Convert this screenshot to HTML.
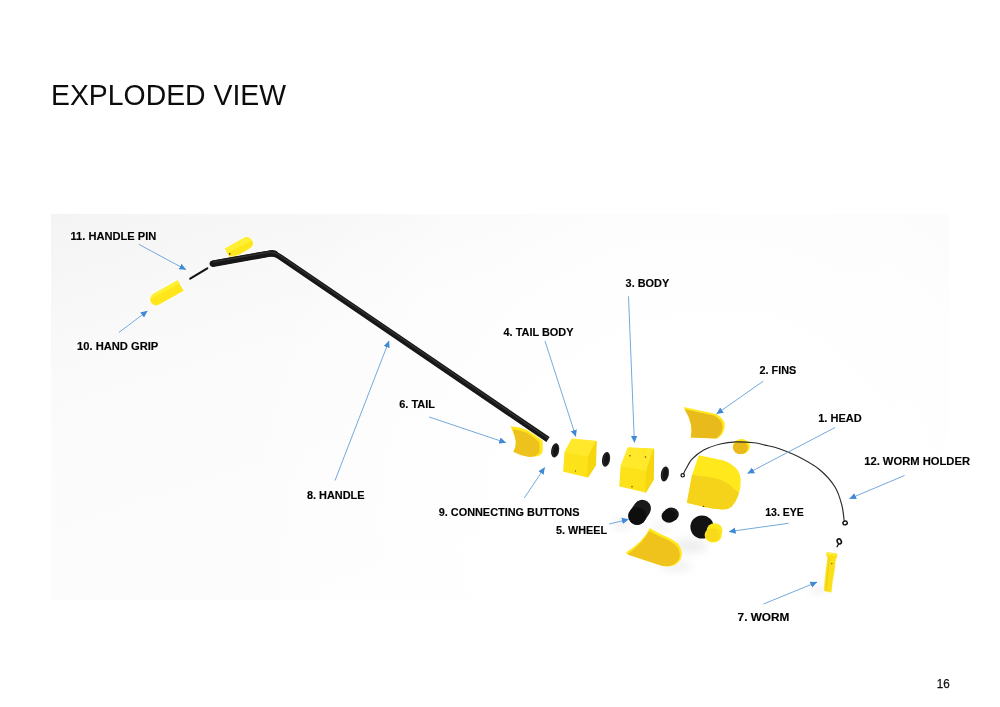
<!DOCTYPE html>
<html>
<head>
<meta charset="utf-8">
<title>Exploded View</title>
<style>
  html, body { margin: 0; padding: 0; background: #ffffff; }
  body { width: 1000px; height: 707px; overflow: hidden; position: relative; font-family: "Liberation Sans", sans-serif; }
  svg { position: absolute; left: 0; top: 0; display: block; }
  .lbl { font-family: "Liberation Sans", sans-serif; font-weight: bold; font-size: 11.5px; fill: #000000; stroke: #000000; stroke-width: 0.15; }
  .title { font-family: "Liberation Sans", sans-serif; font-size: 29.8px; fill: #0c0c0c; }
  .pg { font-family: "Liberation Sans", sans-serif; font-size: 12px; fill: #111111; stroke: #111111; stroke-width: 0.25; }
  .arr { stroke: #74a9dc; stroke-width: 1; fill: none; }
</style>
</head>
<body>
<svg width="1000" height="707" viewBox="0 0 1000 707">
  <defs>
    <linearGradient id="bg" gradientUnits="userSpaceOnUse" x1="51" y1="214" x2="291" y2="986">
      <stop offset="0" stop-color="#f4f4f4"/>
      <stop offset="0.125" stop-color="#f8f8f8"/>
      <stop offset="0.25" stop-color="#fbfbfb"/>
      <stop offset="0.5" stop-color="#fcfcfc"/>
      <stop offset="0.72" stop-color="#ffffff"/>
    </linearGradient>
    <radialGradient id="bgw" gradientUnits="userSpaceOnUse" cx="700" cy="520" r="480">
      <stop offset="0" stop-color="#ffffff" stop-opacity="1"/>
      <stop offset="0.35" stop-color="#ffffff" stop-opacity="1"/>
      <stop offset="1" stop-color="#ffffff" stop-opacity="0"/>
    </radialGradient>
    <filter id="blur2" x="-50%" y="-50%" width="200%" height="200%"><feGaussianBlur stdDeviation="2.2"/></filter>
    <filter id="blur4" x="-50%" y="-50%" width="200%" height="200%"><feGaussianBlur stdDeviation="4"/></filter>
    <filter id="blur8" x="-50%" y="-50%" width="200%" height="200%"><feGaussianBlur stdDeviation="9"/></filter>
    <marker id="mk" viewBox="0 0 10 10" refX="9.6" refY="5" markerWidth="6.9" markerHeight="7.6" orient="auto" markerUnits="userSpaceOnUse">
      <path d="M0,0.4 L10,5 L0,9.6 Z" fill="#3f89d6"/>
    </marker>
  </defs>

  <!-- picture background -->
  <rect x="51" y="214" width="898" height="386.5" fill="url(#bg)"/>
  <rect x="51" y="214" width="898" height="386.5" fill="url(#bgw)"/>

  <!-- soft shadows -->
  <g opacity="0.42">
    <ellipse cx="690" cy="546" rx="18" ry="7" fill="#d6d6d6" filter="url(#blur4)"/>
    <ellipse cx="676" cy="566" rx="16" ry="5" fill="#dcdcdc" filter="url(#blur4)"/>
    <ellipse cx="622" cy="524" rx="10" ry="5" fill="#dddddd" filter="url(#blur4)"/>
    <ellipse cx="660" cy="527" rx="10" ry="4" fill="#dddddd" filter="url(#blur4)"/>
    <ellipse cx="818" cy="590" rx="9" ry="4" fill="#dddddd" filter="url(#blur4)"/>
  </g>

  <!-- top grip (behind rod) -->
  <path transform="translate(0,0.8)" d="M225.2,248 L244.4,237.2 A5.8,5.8 0 0 1 250.6,246.8 L230.9,258.2 Z" fill="#ffffff" stroke="#ffffff" stroke-width="2.6" stroke-linejoin="round" opacity="0.55"/>
  <path transform="translate(0,0.8)" d="M225.2,248 L244.4,237.2 A5.8,5.8 0 0 1 250.6,246.8 L230.9,258.2 Z" fill="#ffe61a" stroke="#ffe61a" stroke-width="0.8" stroke-linejoin="round"/>
  <path transform="translate(0,0.8)" d="M225.2,248 L244.4,237.2 A5.8,5.8 0 0 1 251.6,240 L227.2,252.2 Z" fill="#fff034"/>
  <circle cx="229.8" cy="253.8" r="0.9" fill="#6a2a00"/>

  <!-- hand grip -->
  <path d="M177.6,280.2 L153.2,294 A6,6 0 0 0 159.2,304.6 L183.6,290.8 Z" fill="#ffffff" stroke="#ffffff" stroke-width="2.6" stroke-linejoin="round" opacity="0.55"/>
  <path d="M177.6,280.2 L153.2,294 A6,6 0 0 0 159.2,304.6 L183.6,290.8 Z" fill="#ffe61a"/>
  <path d="M177.6,280.2 L153.2,294 A6,6 0 0 0 150.6,299 L179.6,283.6 Z" fill="#fff034"/>

  <!-- pin -->
  <line x1="190.2" y1="278.6" x2="207.3" y2="268.4" stroke="#111" stroke-width="2.1" stroke-linecap="round"/>

  <!-- tail -->
  <path d="M510.6,426.3 Q520,427 528.3,430.2 Q536,434 542.6,440.5 L542.8,450.4 Q542,454 539.6,455.6 Q534,457.4 528.3,456.8 Q520,455.6 513.4,451.8 Q516.2,447 515.9,441.9 Q515.4,437 510.6,426.3 Z" fill="#ffe71c"/>
  <path d="M512.4,429.2 Q520,430 527.3,433 Q534,436.6 539.4,442.5 L539.4,452 Q538,454.6 535,455.9 Q531,456.9 528.3,456.8 Q520,455.6 513.4,451.8 Q516.2,447 515.9,441.9 Q515.4,437 512.4,429.2 Z" fill="#eec21c"/>

  <!-- handle rod -->
  <path d="M212.6,263.6 L268,253.8 Q273.8,252.6 278.6,256 L548,439.5" fill="none" stroke="#ffffff" stroke-width="8.4" stroke-linecap="round" stroke-linejoin="round" opacity="0.55"/>
  <path d="M212.6,263.6 L268,253.8 Q273.8,252.6 278.6,256 L548,439.5" fill="none" stroke="#181818" stroke-width="5.8" stroke-linecap="butt" stroke-linejoin="round"/>
  <path d="M212.8,263.7 L268,253.9 Q272,253 274.6,253.6" fill="none" stroke="#181818" stroke-width="6.5" stroke-linecap="round" stroke-linejoin="round"/>
  <path d="M213,262 L268,252.4 Q273.6,251.4 278.8,254.8 L548,438.2" fill="none" stroke="#4a4a4a" stroke-width="1.2" stroke-linecap="butt" stroke-linejoin="round" opacity="0.55"/>

  <!-- connecting buttons -->
  <g fill="#151515">
    <ellipse cx="555.1" cy="450.4" rx="3.9" ry="7.2" transform="rotate(9 555.1 450.4)"/>
    <ellipse cx="606" cy="459.4" rx="3.9" ry="7.4" transform="rotate(9 606 459.4)"/>
    <ellipse cx="664.8" cy="474" rx="3.9" ry="7.6" transform="rotate(9 664.8 474)"/>
  </g>
  <g fill="none" stroke="#3a3a3a" stroke-width="0.8" opacity="0.8">
    <ellipse cx="555.7" cy="450.3" rx="3" ry="6.4" transform="rotate(9 555.7 450.3)"/>
    <ellipse cx="606.6" cy="459.3" rx="3" ry="6.6" transform="rotate(9 606.6 459.3)"/>
    <ellipse cx="665.4" cy="473.9" rx="3" ry="6.8" transform="rotate(9 665.4 473.9)"/>
  </g>

  <!-- tail body cube -->
  <g stroke-linejoin="round" stroke-width="1.2">
    <polygon points="565,452.8 587.8,456.4 587.4,476.8 563.8,471.2" fill="#fde21a" stroke="#fde21a"/>
    <polygon points="565,452.2 572,439 596.2,441.4 588,455.8" fill="#ffe92a" stroke="#ffe92a"/>
    <polygon points="588.6,456.2 596.2,441.8 595.4,465.2 588,476.8" fill="#f5d60f" stroke="#f5d60f"/>
  </g>
  <circle cx="575.5" cy="471" r="0.7" fill="#7a6500"/>

  <!-- body cube -->
  <g stroke-linejoin="round" stroke-width="1.2">
    <polygon points="621.2,466.4 646.2,470.6 645.4,492 619.9,486" fill="#fde21a" stroke="#fde21a"/>
    <polygon points="621.2,465.6 628.2,447.8 653.6,449 646.2,469.8" fill="#ffe92a" stroke="#ffe92a"/>
    <polygon points="646.8,470.4 653.6,449.6 653.2,479.6 645.8,492" fill="#f5d60f" stroke="#f5d60f"/>
  </g>
  <circle cx="630" cy="455.7" r="0.8" fill="#6b5800"/>
  <circle cx="645.5" cy="457" r="0.8" fill="#6b5800"/>
  <circle cx="632" cy="486.7" r="0.8" fill="#8a4a00"/>

  <!-- wheels -->
  <line x1="642.2" y1="508.6" x2="637.2" y2="516" stroke="#1a1a1a" stroke-width="17.6" stroke-linecap="round"/>
  <circle cx="637.2" cy="516" r="9" fill="#0e0e0e"/>
  <ellipse cx="671.2" cy="514.4" rx="7.6" ry="6.8" fill="#1a1a1a"/>
  <ellipse cx="669" cy="516.2" rx="7.4" ry="6.6" fill="#101010"/>
  <circle cx="702" cy="527" r="11.6" fill="#131313"/>

  <!-- eye -->
  <ellipse cx="714.6" cy="530.6" rx="7.8" ry="7.4" fill="#ffe81c"/>
  <ellipse cx="713.2" cy="535" rx="8.6" ry="7.5" fill="#ffe71a"/>
  <path d="M706.4,531.4 Q713,526.4 721.6,532.6" fill="none" stroke="#f2cf12" stroke-width="0.9"/>
  <ellipse cx="712.8" cy="535.6" rx="7" ry="5.9" fill="#f9da1a"/>

  <!-- bottom fin -->
  <path d="M649.8,528 Q644,541 625.8,552.6 L627,554.2 L661,565.6 Q675,568.8 680.6,559.6 Q684.2,551 677.8,543.6 Q672,538.6 663,535.2 Q655,531.4 649.8,528 Z" fill="#ffe81c"/>
  <path d="M649.2,531 Q643.4,542.4 627.6,554.4 L661,565.6 Q674,568 678.8,559.6 Q681.8,552 676,545.4 Q671,541 661.8,537.2 Q654,533.8 649.2,531 Z" fill="#efc21c"/>

  <!-- top fin -->
  <path d="M683.5,407 L716,414 Q725,419 724.8,426 Q724,435 717,438.5 L690.8,437.5 Q694,424 683.5,407 Z" fill="#ffe81c"/>
  <path d="M684.6,409.2 L714,415.6 Q722.5,420 722.6,427 Q722,435 716,438.4 L690.8,437.5 Q694,424 684.6,409.2 Z" fill="#e8ba1c"/>

  <!-- small eye disk -->
  <ellipse cx="741.4" cy="446.6" rx="8.5" ry="7.5" fill="#ffe81c"/>
  <ellipse cx="740.4" cy="447.6" rx="7.5" ry="6.5" fill="#e8ba1c"/>

  <!-- head -->
  <path d="M698.8,455.3 L723.7,460.4 Q731,463 736.1,468.3 Q740.4,473 740.7,479.6 Q741,487 739,493.2 Q736.6,501 731.6,506.8 Q728,509.6 722.5,509.6 Q712,508.8 703.3,506.8 L686.9,502.8 L692,475 Z" fill="#ffe81c"/>
  <path d="M692,475 Q706,475.6 720.3,479.6 Q729,483.4 733.9,488.7 Q737,491 739,493.2 Q736.6,501 731.6,506.8 Q728,509.6 722.5,509.6 Q712,508.8 703.3,506.8 L686.9,502.8 Z" fill="#f4d31a"/>
  <circle cx="703.6" cy="506.4" r="0.7" fill="#6b2800"/>

  <!-- worm holder wire -->
  <path d="M683.6,473.6 C684.0,472.7 684.9,470.7 686.3,468.3 C687.7,465.9 689.2,462.2 692.0,459.2 C694.8,456.2 698.6,452.7 703.3,450.2 C708.0,447.7 714.8,445.4 720.3,444.0 C725.8,442.6 730.5,442.1 736.1,441.9 C741.8,441.7 749.4,442.3 754.2,442.8 C759.0,443.3 760.7,444.1 765.0,445.1 C769.3,446.1 774.2,446.9 780.0,449.0 C785.8,451.1 793.3,454.0 800.0,457.5 C806.7,461.0 814.2,465.1 820.0,470.0 C825.8,474.9 831.4,481.2 835.0,487.0 C838.6,492.8 840.3,499.3 841.8,505.0 C843.3,510.7 843.8,518.3 844.2,521.0" fill="none" stroke="#2a2a2a" stroke-width="1.15"/>
  <circle cx="682.7" cy="475.3" r="1.7" fill="none" stroke="#111" stroke-width="1.2"/>
  <ellipse cx="845.1" cy="522.9" rx="2.2" ry="1.9" fill="none" stroke="#111" stroke-width="1.4" transform="rotate(-15 845.1 522.9)"/>

  <!-- small hook -->
  <ellipse cx="839.3" cy="541.4" rx="2" ry="2.6" fill="none" stroke="#111" stroke-width="1.6" transform="rotate(-25 839.3 541.4)"/>
  <path d="M838.6,544 L837,546.8" stroke="#111" stroke-width="1.3" stroke-linecap="round"/>

  <!-- worm -->
  <path d="M826.7,552.5 L836.8,553.8 L836.8,557.8 L835.6,558.2 Q834.6,570 832.4,581.3 L831.1,592.2 L824.1,590.5 Q825,580 826,571.1 L827.9,557.1 L826.7,556.1 Z" fill="#fbdf18" stroke="#fbdf18" stroke-width="0.6" stroke-linejoin="round"/>
  <path d="M826.7,552.5 L836.8,553.8 L836.6,555.6 L826.7,554.4 Z" fill="#ffec40"/>
  <path d="M829.2,557.6 Q828,572 826,590.8" stroke="#f0cc14" stroke-width="1" fill="none"/>
  <circle cx="831.8" cy="563.6" r="0.7" fill="#5b4800"/>

  <!-- arrows -->
  <line class="arr" x1="138.8" y1="244.3" x2="185.9" y2="269.7" marker-end="url(#mk)"/>
  <line class="arr" x1="118.8" y1="332.5" x2="147.4" y2="311.0" marker-end="url(#mk)"/>
  <line class="arr" x1="335.0" y1="480.5" x2="389.0" y2="340.9" marker-end="url(#mk)"/>
  <line class="arr" x1="429.2" y1="417.0" x2="505.8" y2="442.7" marker-end="url(#mk)"/>
  <line class="arr" x1="524.3" y1="498.0" x2="544.7" y2="467.6" marker-end="url(#mk)"/>
  <line class="arr" x1="545.0" y1="341.0" x2="575.8" y2="436.5" marker-end="url(#mk)"/>
  <line class="arr" x1="628.5" y1="296.3" x2="634.4" y2="442.5" marker-end="url(#mk)"/>
  <line class="arr" x1="609.2" y1="524.0" x2="628.5" y2="519.4" marker-end="url(#mk)"/>
  <line class="arr" x1="763.2" y1="381.2" x2="716.6" y2="413.9" marker-end="url(#mk)"/>
  <line class="arr" x1="835.0" y1="427.5" x2="747.6" y2="473.4" marker-end="url(#mk)"/>
  <line class="arr" x1="904.5" y1="475.5" x2="849.5" y2="498.7" marker-end="url(#mk)"/>
  <line class="arr" x1="788.5" y1="523.3" x2="729.0" y2="531.6" marker-end="url(#mk)"/>
  <line class="arr" x1="763.5" y1="604.0" x2="817.0" y2="582.1" marker-end="url(#mk)"/>

  <!-- labels -->
  <text class="lbl" x="70.5" y="239.8" textLength="85.8" lengthAdjust="spacingAndGlyphs">11. HANDLE PIN</text>
  <text class="lbl" x="77.0" y="349.5" textLength="81.3" lengthAdjust="spacingAndGlyphs">10. HAND GRIP</text>
  <text class="lbl" x="307.0" y="498.7" textLength="57.5" lengthAdjust="spacingAndGlyphs">8. HANDLE</text>
  <text class="lbl" x="399.2" y="408.2" textLength="35.8" lengthAdjust="spacingAndGlyphs">6. TAIL</text>
  <text class="lbl" x="438.7" y="515.9" textLength="140.8" lengthAdjust="spacingAndGlyphs">9. CONNECTING BUTTONS</text>
  <text class="lbl" x="556.0" y="533.7" textLength="51.0" lengthAdjust="spacingAndGlyphs">5. WHEEL</text>
  <text class="lbl" x="503.5" y="336.1" textLength="70.0" lengthAdjust="spacingAndGlyphs">4. TAIL BODY</text>
  <text class="lbl" x="625.6" y="286.8" textLength="43.6" lengthAdjust="spacingAndGlyphs">3. BODY</text>
  <text class="lbl" x="759.5" y="373.6" textLength="36.8" lengthAdjust="spacingAndGlyphs">2. FINS</text>
  <text class="lbl" x="818.2" y="422.0" textLength="43.5" lengthAdjust="spacingAndGlyphs">1. HEAD</text>
  <text class="lbl" x="864.2" y="465.4" textLength="105.8" lengthAdjust="spacingAndGlyphs">12. WORM HOLDER</text>
  <text class="lbl" x="765.2" y="515.8" textLength="38.6" lengthAdjust="spacingAndGlyphs">13. EYE</text>
  <text class="lbl" x="737.6" y="620.6" textLength="51.8" lengthAdjust="spacingAndGlyphs">7. WORM</text>

  <!-- title -->
  <text class="title" x="51" y="104.6" textLength="235" lengthAdjust="spacingAndGlyphs">EXPLODED VIEW</text>

  <!-- page number -->
  <text class="pg" x="936.8" y="688" textLength="12.9" lengthAdjust="spacingAndGlyphs">16</text>
</svg>
</body>
</html>
